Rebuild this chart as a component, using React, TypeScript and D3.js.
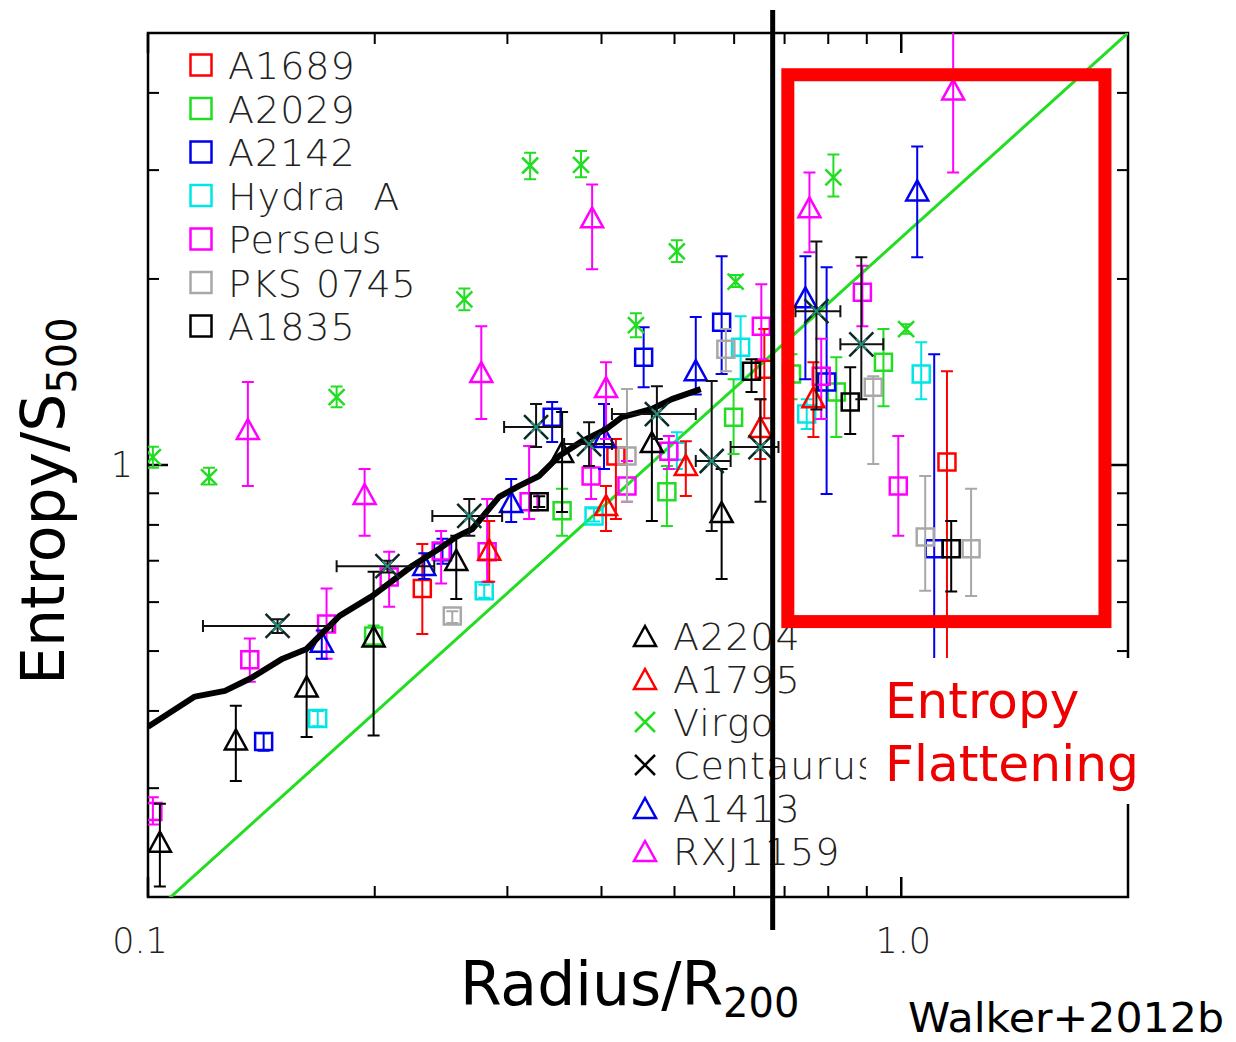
import React from 'react';
import * as d3 from 'd3';

// ---------- data (x = r/R200, y = K/S500, lo, hi) ----------
type P = [number, number, number, number];
type C = [number, number, number, number, number, number];

const A1689: P[] = [[0.2313,0.631,0.533,0.745],[0.418,1.034,0.818,1.102],[0.658,1.429,1.19,1.66],[1.15,1.011,0.40,1.418]];
const A2029: P[] = [[0.1993,0.529,0.51,0.55],[0.3546,0.843,0.768,0.915],[0.4885,0.905,0.797,0.996],[0.599,1.195,1.042,1.377],[0.715,1.403,1.278,1.511],[0.820,1.312,1.110,1.494],[0.947,1.467,1.245,1.659]];
const A2142: P[] = [[0.1424,0.357,0.345,0.368],[0.246,0.724,0.692,0.760],[0.344,1.195,1.089,1.264],[0.455,1.494,1.336,1.671],[0.5775,1.702,1.403,2.176],[0.796,1.362,0.898,2.089],[1.106,0.732,0.40,1.511]];
const HydraA: P[] = [[0.168,0.389,0.378,0.40],[0.2795,0.626,0.61,0.64],[0.391,0.827,0.81,0.85],[0.5036,1.053,0.985,1.13],[0.612,1.551,1.377,1.74],[0.749,1.209,1.143,1.278],[1.063,1.403,1.278,1.58]];
const Perseus: P[] = [[0.1015,0.275,0.262,0.29],[0.1365,0.484,0.446,0.524],[0.1726,0.553,0.486,0.631],[0.209,0.659,0.59,0.724],[0.245,0.726,0.643,0.782],[0.282,0.724,0.647,0.881],[0.3206,0.872,0.818,1.073],[0.3875,0.96,0.881,1.073],[0.4324,0.925,0.872,1.015],[0.4915,1.053,0.985,1.114],[0.652,1.677,1.483,1.961],[0.783,1.392,1.187,1.60],[0.888,1.903,1.677,2.10],[0.991,0.925,0.768,1.114]];
const PKS0745: P[] = [[0.2535,0.57,0.555,0.58],[0.4324,1.034,0.872,1.327],[0.585,1.539,1.418,1.659],[0.918,1.336,1.004,1.392],[1.076,0.765,0.626,0.96],[1.238,0.732,0.614,0.915]];
const A1835: P[] = [[0.3306,0.872,0.855,0.89],[0.6327,1.418,1.312,1.483],[0.8556,1.264,1.122,1.439],[1.165,0.732,0.624,0.812]];

const A2204: P[] = [[0.1037,0.244,0.208,0.283],[0.1308,0.357,0.308,0.408],[0.1624,0.435,0.363,0.504],[0.1993,0.524,0.365,0.672],[0.2566,0.697,0.607,0.768],[0.3546,1.042,0.839,1.218],[0.4666,1.081,0.812,1.218],[0.5775,0.833,0.654,0.985]];
const A1795: P[] = [[0.2838,0.724,0.647,0.812],[0.4056,0.855,0.782,0.925],[0.5176,0.993,0.891,1.093],[0.65,1.143,1.023,1.278],[0.7645,1.278,1.11,1.467]];
const A1413: P[] = [[0.1701,0.514,0.486,0.54],[0.2327,0.684,0.654,0.72],[0.3035,0.865,0.809,0.949],[0.4031,1.102,0.985,1.255],[0.5336,1.413,1.30,1.735],[0.746,1.854,1.377,2.176],[1.05,2.761,2.168,3.276]];
const RXJ1159: P[] = [[0.1357,1.135,0.925,1.362],[0.1939,0.891,0.768,0.985],[0.277,1.403,1.187,1.677],[0.3887,2.497,2.074,2.844],[0.4056,1.327,1.102,1.467],[0.7553,2.592,2.209,2.973],[1.172,4.02,2.973,5.5]];
const Virgo: P[] = [[0.1015,1.03,0.99,1.07],[0.1205,0.956,0.93,0.99],[0.178,1.288,1.24,1.34],[0.263,1.854,1.78,1.93],[0.3216,3.052,2.9,3.2],[0.3757,3.06,2.92,3.22],[0.4444,1.684,1.61,1.76],[0.5036,2.216,2.13,2.31],[0.6027,1.98,1.94,2.03],[0.8127,2.919,2.72,3.18],[1.015,1.659,1.63,1.69]];
// x, y, ylo, yhi, xlo, xhi
const Centaurus: C[] = [[0.1486,0.549,0.535,0.563,0.1183,0.1758],[0.2079,0.686,0.67,0.70,0.178,0.2399],[0.267,0.827,0.768,0.881,0.2385,0.2952],[0.3275,1.152,1.069,1.255,0.297,0.3546],[0.3851,1.081,0.996,1.173,0.3568,0.413],[0.4738,1.209,1.102,1.341,0.413,0.5336],[0.5602,1.015,0.782,1.367,0.5336,0.5936],[0.6503,1.069,0.872,1.278,0.5936,0.6871],[0.7716,1.774,1.23,2.30,0.7237,0.8302],[0.8851,1.568,1.278,2.168,0.8302,0.9467]];

const meanX = [0.1,0.1154,0.1265,0.1365,0.1509,0.1624,0.1796,0.1986,0.2244,0.2436,0.2566,0.2695,0.2925,0.311,0.3306,0.3513,0.377,0.4056,0.4258,0.4666,0.496,0.5417];
const meanY = [0.377,0.422,0.431,0.451,0.486,0.504,0.57,0.614,0.687,0.732,0.765,0.788,0.888,0.925,0.96,1.034,1.093,1.143,1.195,1.232,1.278,1.327];

const baselineX = [0.1, 2.0];
const baselineNorm = 2.333;
const baselineSlope = 1.1;

const xMinorTicks = [0.2,0.3,0.4,0.5,0.6,0.7,0.8,0.9,2];
const xMajorTicks = [0.1,1.0];
const xTickLabels = ['0.1','1.0'];
const yMinorTicks = [0.2,0.3,0.4,0.5,0.6,0.7,0.8,0.9,2,3,4,5];
const yMajorTicks = [1];
const yTickLabels = ['1'];
const divideR = 0.675;
const boxX = [0.707, 1.864];
const boxY = [0.558, 4.28];

const topLegend = ['A1689','A2029','A2142','Hydra  A','Perseus','PKS 0745','A1835'];
const topColors = ['#ff0000','#22dd22','#0000ee','#00e6e6','#ff00ff','#a8a8a8','#000000'];
const squareSets = [A1689, A2029, A2142, HydraA, Perseus, PKS0745, A1835];

const botLegend = ['A2204','A1795','Virgo','Centaurus','A1413','RXJ1159'];
const botColors = ['#000000','#ff0000','#22dd22','#000000','#0000ee','#ff00ff'];
const botKinds = ['tri','tri','x','x','tri','tri'];
const triSets = [A2204, A1795, A1413, RXJ1159];
const triColors = ['#000000','#ff0000','#0000ee','#ff00ff'];

const FONT = "'DejaVu Sans', sans-serif";

const L = 148, R = 1128, T = 33, B = 897;
const x = d3.scaleLog().domain([0.1, 2]).range([L, R]);
const y = d3.scaleLog().domain([0.2, 5]).range([B, T]);
const xLabelNudge = [-8, 2];

const sqPath = (cx: number, cy: number, s: number) => `M${cx - s},${cy - s}h${2 * s}v${2 * s}h${-2 * s}Z`;
const triPath = (cx: number, cy: number) => `M${cx},${cy - 12}L${cx + 11},${cy + 8}L${cx - 11},${cy + 8}Z`;
const xPath = (cx: number, cy: number, s: number) => `M${cx - s},${cy - s}L${cx + s},${cy + s}M${cx - s},${cy + s}L${cx + s},${cy - s}`;

function ErrY({ d, color, w = 2 }: { d: P | C; color: string; w?: number }) {
  const cx = x(d[0]);
  const y1 = y(d[2]), y2 = y(d[3]);
  return (
    <path d={`M${cx},${y1}V${y2}M${cx - 6},${y1}h12M${cx - 6},${y2}h12`} stroke={color} strokeWidth={w} fill="none" />
  );
}

export default function App() {
  const line = d3.line<number>().x((_, i) => x(meanX[i])).y((v) => y(v)).curve(d3.curveLinear);
  const base = d3.line<number>().x((v) => x(v)).y((v) => y(baselineNorm * Math.pow(v, baselineSlope)));
  return (
    <svg width={1236} height={1042} style={{ position: 'absolute', left: 0, top: 0, background: '#fff' }}>
      <defs>
        <clipPath id="plot"><rect x={L} y={T} width={R - L} height={B - T} /></clipPath>
      </defs>
      <rect x={0} y={0} width={1236} height={1042} fill="#fff" />
      {/* axes frame */}
      <rect x={L} y={T} width={R - L} height={B - T} fill="none" stroke="#000" strokeWidth={2.5} />
      {xMinorTicks.map((t) => (
        <g key={'xm' + t}>
          <line x1={x(t)} x2={x(t)} y1={B} y2={B - 11} stroke="#000" strokeWidth={2} />
          <line x1={x(t)} x2={x(t)} y1={T} y2={T + 11} stroke="#000" strokeWidth={2} />
        </g>
      ))}
      {xMajorTicks.map((t, i) => (
        <g key={'xM' + t}>
          <line x1={x(t)} x2={x(t)} y1={B} y2={B - 20} stroke="#000" strokeWidth={2.5} />
          <line x1={x(t)} x2={x(t)} y1={T} y2={T + 20} stroke="#000" strokeWidth={2.5} />
          <text x={x(t) + xLabelNudge[i]} y={953} textAnchor="middle" fontFamily={FONT} fontWeight={200} fontSize={35} fill="#222">{xTickLabels[i]}</text>
        </g>
      ))}
      {yMinorTicks.map((t) => (
        <g key={'ym' + t}>
          <line x1={L} x2={L + 11} y1={y(t)} y2={y(t)} stroke="#000" strokeWidth={2} />
          <line x1={R} x2={R - 11} y1={y(t)} y2={y(t)} stroke="#000" strokeWidth={2} />
        </g>
      ))}
      {yMajorTicks.map((t, i) => (
        <g key={'yM' + t}>
          <line x1={L} x2={L + 20} y1={y(t)} y2={y(t)} stroke="#000" strokeWidth={2.5} />
          <line x1={R} x2={R - 20} y1={y(t)} y2={y(t)} stroke="#000" strokeWidth={2.5} />
          <text x={122} y={y(t) + 12} textAnchor="middle" fontFamily={FONT} fontWeight={200} fontSize={35} fill="#222">{yTickLabels[i]}</text>
        </g>
      ))}

      <g clipPath="url(#plot)">
        <path d={base(baselineX) || ''} stroke="#22dd22" strokeWidth={3} fill="none" />
        {squareSets.map((set, si) => (
          <g key={'sq' + si}>
            {set.map((d, i) => (
              <g key={i}>
                <ErrY d={d} color={topColors[si]} />
                <path d={sqPath(x(d[0]), y(d[1]), 8.5)} stroke={topColors[si]} strokeWidth={2.5} fill="none" />
              </g>
            ))}
          </g>
        ))}
        {triSets.map((set, si) => (
          <g key={'tr' + si}>
            {set.map((d, i) => (
              <g key={i}>
                <ErrY d={d} color={triColors[si]} />
                <path d={triPath(x(d[0]), y(d[1]))} stroke={triColors[si]} strokeWidth={2.5} fill="none" />
              </g>
            ))}
          </g>
        ))}
        <path d={line(meanY) || ''} stroke="#000" strokeWidth={6} fill="none" strokeLinejoin="round" />
        {Centaurus.map((d, i) => {
          const cx = x(d[0]), cy = y(d[1]), x1 = x(d[4]), x2 = x(d[5]);
          return (
            <g key={'c' + i}>
              <ErrY d={d} color="#111" />
              <path d={`M${x1},${cy}H${x2}M${x1},${cy - 6}v12M${x2},${cy - 6}v12`} stroke="#111" strokeWidth={2} fill="none" />
              <path d={xPath(cx, cy, 12)} stroke="#0c2a25" strokeWidth={2.5} fill="none" />
              <path d={xPath(cx, cy, 5)} stroke="#2a8a78" strokeWidth={2} fill="none" />
            </g>
          );
        })}
        {Virgo.map((d, i) => (
          <g key={'v' + i}>
            <ErrY d={d} color="#22dd22" />
            <path d={xPath(x(d[0]), y(d[1]), 8)} stroke="#22dd22" strokeWidth={2.5} fill="none" />
          </g>
        ))}
      </g>

      {/* top legend */}
      {topLegend.map((s, i) => {
        const cy = 65 + i * 43.5;
        return (
          <g key={'tl' + i}>
            <path d={sqPath(201, cy, 10.5)} stroke={topColors[i]} strokeWidth={2.5} fill="none" />
            <text x={228} y={cy + 14} fontFamily={FONT} fontWeight={200} fontSize={38} fill="#222" style={{ whiteSpace: 'pre' }} letterSpacing={1}>{s}</text>
          </g>
        );
      })}
      {/* bottom legend */}
      {botLegend.map((s, i) => {
        const cy = 636 + i * 43;
        const c = botColors[i];
        return (
          <g key={'bl' + i}>
            {botKinds[i] === 'tri'
              ? <path d={`M645,${cy - 10}L656,${cy + 10}L634,${cy + 10}Z`} stroke={c} strokeWidth={2.5} fill="none" />
              : <path d={xPath(645, cy, 10)} stroke={c} strokeWidth={2.5} fill="none" />}
            <text x={673} y={cy + 14} fontFamily={FONT} fontWeight={200} fontSize={38} fill="#222" letterSpacing={1}>{s}</text>
          </g>
        );
      })}

      {/* divider at r ~ R500 */}
      <line x1={x(divideR)} x2={x(divideR)} y1={10} y2={930} stroke="#000" strokeWidth={5} />
      {/* flattening box */}
      <rect x={x(boxX[0])} y={y(boxY[1])} width={x(boxX[1]) - x(boxX[0])} height={y(boxY[0]) - y(boxY[1])} fill="none" stroke="#ff0000" strokeWidth={13} />
      <rect x={866} y={658} width={290} height={146} fill="#fff" />
      <text x={885} y={718} fontFamily={FONT} fontSize={50} fill="#ee0000">Entropy</text>
      <text x={885} y={781} fontFamily={FONT} fontSize={50} fill="#ee0000" textLength={254} lengthAdjust="spacingAndGlyphs">Flattening</text>

      {/* axis titles */}
      <text x={460} y={1005} fontFamily={FONT} fontSize={60} fill="#000">Radius/R<tspan fontSize={40} dy={12}>200</tspan></text>
      <text transform="translate(64,685) rotate(-90)" fontFamily={FONT} fontSize={60} fill="#000">Entropy/S<tspan fontSize={40} dy={12}>500</tspan></text>
      <text x={908} y={1032} fontFamily={FONT} fontSize={40} fill="#000" textLength={316} lengthAdjust="spacingAndGlyphs">Walker+2012b</text>
    </svg>
  );
}
